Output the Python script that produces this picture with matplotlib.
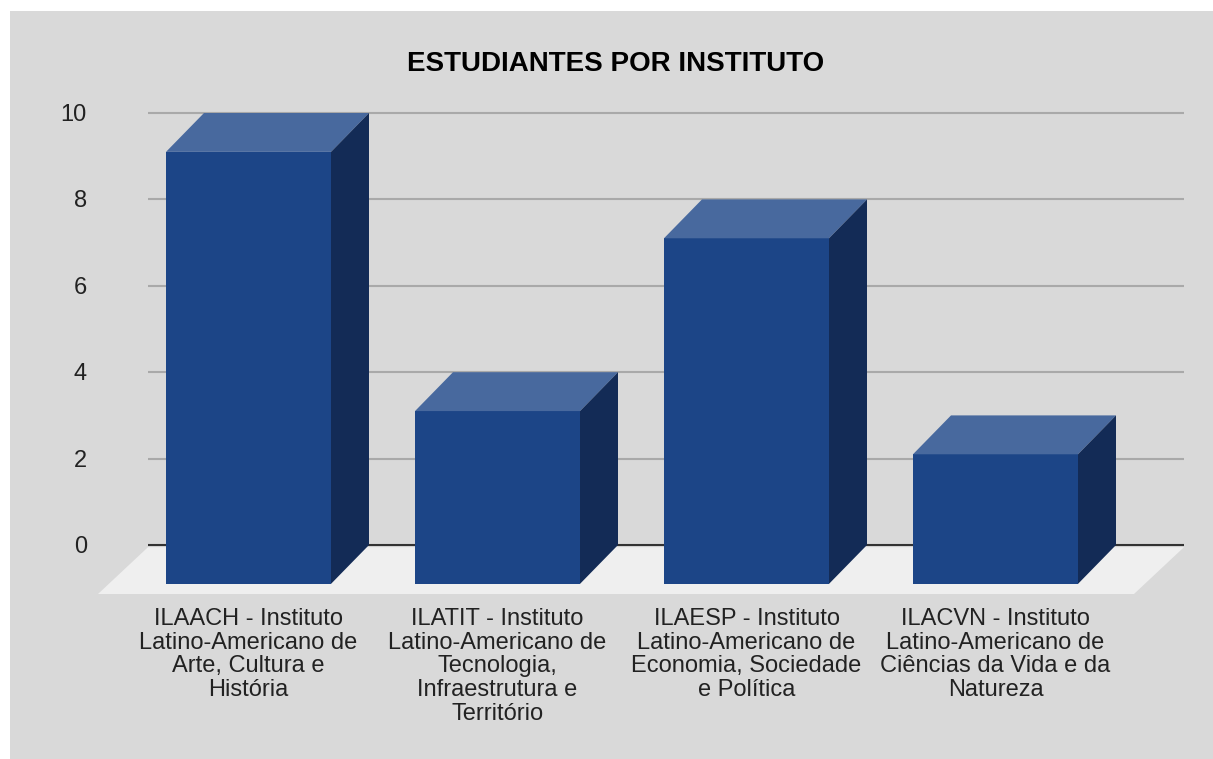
import matplotlib.pyplot as plt
from matplotlib.patches import Polygon, Rectangle

plt.rcParams['font.family'] = ['Liberation Sans', 'DejaVu Sans']

# data
institutos = [
    "ILAACH - Instituto\nLatino-Americano de\nArte, Cultura e\nHistória",
    "ILATIT - Instituto\nLatino-Americano de\nTecnologia,\nInfraestrutura e\nTerritório",
    "ILAESP - Instituto\nLatino-Americano de\nEconomia, Sociedade\ne Política",
    "ILACVN - Instituto\nLatino-Americano de\nCiências da Vida e da\nNatureza",
]
estudiantes = [10, 4, 8, 3]
yticks = [0, 2, 4, 6, 8, 10]
titulo = "ESTUDIANTES POR INSTITUTO"

# colours
bg = '#d9d9d9'
c_front = '#1c4587'
c_top = '#48699e'
c_side = '#132b56'
c_floor = '#efefef'

W, H = 1213, 759
fig = plt.figure(figsize=(W / 100, H / 100), dpi=100)
fig.patch.set_facecolor('white')
fig.add_artist(Rectangle((10 / W, 0), 1, (H - 11) / H, transform=fig.transFigure,
                         facecolor=bg, edgecolor='none', zorder=0))

# plot area, px -> data: x = (px-248.5)/249, y = (545-py)/43.2
sx, ox = 249.0, 248.5
sy, oy = 43.2, 545.0
ax = fig.add_axes([90 / W, (H - 600) / H, 1100 / W, 500 / H])
ax.set_xlim((90 - ox) / sx, (1190 - ox) / sx)
ax.set_ylim((oy - 600) / sy, (oy - 100) / sy)
ax.axis('off')

# 3d depth of bars and floor
dx, dy = 38 / sx, 0.9
fdx, fdy = 50 / sx, 49 / sy
bw = 165 / sx
gx0, gx1 = (148 - ox) / sx, (1184 - ox) / sx

# floor
ax.add_patch(Polygon([(gx0, -0.05), (gx1, -0.05), (gx1 - fdx, -fdy), (gx0 - fdx, -fdy)],
                     closed=True, facecolor=c_floor, edgecolor='none', zorder=1))

# gridlines
ax.hlines(yticks[1:], gx0, gx1, color='#a9a9a9', lw=1.5, zorder=1.5)
ax.hlines(0, gx0, gx1, color='#333333', lw=1.5, zorder=1.5)

for v in yticks:
    ax.text((87 - ox) / sx, v - 2 / sy, str(v), ha='right', va='center', fontsize=17,
            color='#222222')

# bars
for i, v in enumerate(estudiantes):
    x0, x1 = i - bw / 2, i + bw / 2
    ax.add_patch(Polygon([(x0, -dy), (x1, -dy), (x1, v - dy), (x0, v - dy)],
                         facecolor=c_front, edgecolor='none', zorder=3))
    ax.add_patch(Polygon([(x0, v - dy), (x1, v - dy), (x1 + dx, v), (x0 + dx, v)],
                         facecolor=c_top, edgecolor='none', zorder=3))
    ax.add_patch(Polygon([(x1, -dy), (x1 + dx, 0), (x1 + dx, v), (x1, v - dy)],
                         facecolor=c_side, edgecolor='none', zorder=3))
    ax.text(i, (oy - 608) / sy, institutos[i], ha='center', va='top', fontsize=17,
            linespacing=1.1, color='#222222')

fig.text(616 / W, 1 - 64 / H, titulo, ha='center', va='center', fontsize=20,
         fontweight='bold', color='black')

fig.savefig('out.png', dpi=100)
